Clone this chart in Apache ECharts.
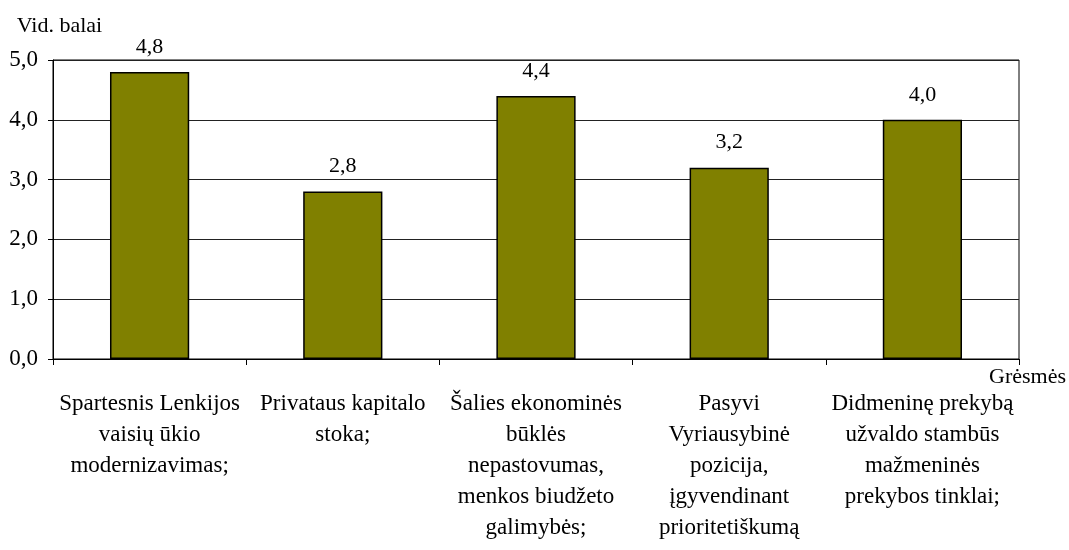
<!DOCTYPE html>
<html>
<head>
<meta charset="utf-8">
<script src="https://cdn.jsdelivr.net/npm/echarts@6/dist/echarts.min.js"></script>
<style>
  html, body { margin: 0; padding: 0; background: #ffffff; }
  #chart { width: 1069px; height: 550px; }
</style>
</head>
<body>
<div id="chart"></div>
<script>
const categories = [
  "Spartesnis Lenkijos\nvaisių ūkio\nmodernizavimas;",
  "Privataus kapitalo\nstoka;",
  "Šalies ekonominės\nbūklės\nnepastovumas,\nmenkos biudžeto\ngalimybės;",
  "Pasyvi\nVyriausybinė\npozicija,\nįgyvendinant\nprioritetiškumą",
  "Didmeninę prekybą\nužvaldo stambūs\nmažmeninės\nprekybos tinklai;"
];
const values = [4.8, 2.8, 4.4, 3.2, 4.0];
const yAxisName = "Vid. balai";
const xAxisName = "Grėsmės";

const fmt = v => Number(v).toFixed(1).replace('.', ',');
const FONT = "'Liberation Serif', 'Times New Roman', serif";

const chart = echarts.init(document.getElementById('chart'), null, { renderer: 'canvas' });
chart.setOption({
  backgroundColor: '#ffffff',
  animation: false,
  textStyle: { fontFamily: FONT, color: '#000' },
  grid: {
    left: 53, right: 50, top: 60, bottom: 191,
    containLabel: false,
    outerBoundsMode: 'none',
    show: true, borderColor: '#000', borderWidth: 1, backgroundColor: 'transparent'
  },
  graphic: [{
    type: 'text',
    right: 3,
    top: 366,
    style: { text: xAxisName, font: "22px 'Liberation Serif', 'Times New Roman', serif", fill: '#000' }
  }],
  xAxis: {
    type: 'category',
    data: categories,
    boundaryGap: true,
    axisLine: { show: true, lineStyle: { color: '#000', width: 1 } },
    axisTick: { show: true, alignWithLabel: false, length: 6, lineStyle: { color: '#000' } },
    axisLabel: {
      interval: 0, margin: 29, fontFamily: FONT, fontSize: 23, lineHeight: 31, color: '#000', align: 'center'
    },
    splitLine: { show: false }
  },
  yAxis: {
    type: 'value',
    min: 0, max: 5, interval: 1,
    name: yAxisName,
    nameLocation: 'end',
    nameGap: 34,
    nameTextStyle: { fontFamily: FONT, fontSize: 22, color: '#000', align: 'center', verticalAlign: 'middle', padding: [0, 0, 0, 13] },
    axisLine: { show: true, lineStyle: { color: '#000', width: 1 } },
    axisTick: { show: true, inside: false, length: 5, lineStyle: { color: '#000' } },
    axisLabel: { formatter: fmt, fontFamily: FONT, fontSize: 23, color: '#000', margin: 15 },
    splitLine: { show: true, lineStyle: { color: '#222', width: 1 } }
  },
  series: [{
    type: 'bar',
    data: values,
    barWidth: '41%',
    itemStyle: { color: '#808000', borderColor: '#000', borderWidth: 1.5 },
    label: {
      show: true, position: 'top', distance: 14,
      formatter: p => fmt(p.value),
      fontFamily: FONT, fontSize: 22, color: '#000'
    }
  }]
});
</script>
</body>
</html>
